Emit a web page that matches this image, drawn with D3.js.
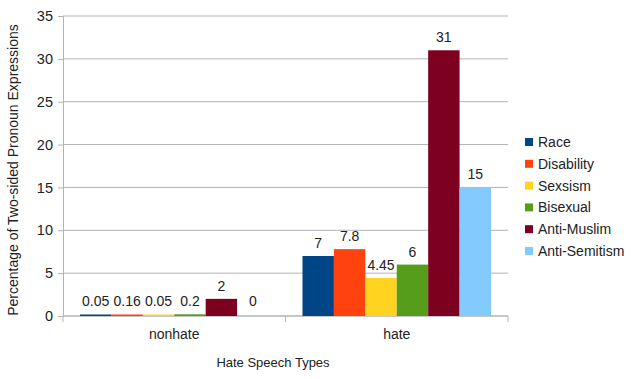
<!DOCTYPE html>
<html>
<head>
<meta charset="utf-8">
<script src="https://cdn.jsdelivr.net/npm/d3@7"></script>
<style>
  body { margin: 0; background: #fff; }
  text { font-family: "Liberation Sans", Arial, sans-serif; fill: #222; }
</style>
</head>
<body>
<script>
// data
var categories = ["nonhate", "hate"];
var series = ["Race", "Disability", "Sexsism", "Bisexual", "Anti-Muslim", "Anti-Semitism"];
var nonhateValues = [0.05, 0.16, 0.05, 0.2, 2, 0];
var hateValues = [7, 7.8, 4.45, 6, 31, 15];
var yTicks = [0, 5, 10, 15, 20, 25, 30, 35];
var colors = ["#004586", "#ff420e", "#ffd320", "#579d1c", "#7e0021", "#83caff"];

var margin = {top: 16, right: 132, bottom: 63, left: 63},
    width = 640 - margin.left - margin.right,
    height = 379 - margin.top - margin.bottom;

var svg = d3.select("body")
  .append("svg")
  .attr("width", 640)
  .attr("height", 379);

var chart = svg.append("g")
  .attr("transform", "translate(" + margin.left + "," + margin.top + ")");

var xscale = d3.scaleBand()
  .domain(categories)
  .range([0, width]);

var inner = d3.scaleBand()
  .domain(series)
  .range([17, xscale.bandwidth() - 17]);

var yscale = d3.scaleLinear()
  .domain([0, 35])
  .range([height, 0]);

var color_scale = d3.scaleOrdinal()
  .domain(series)
  .range(colors);

// gridlines
chart.append("g")
  .selectAll("line")
  .data(yTicks)
  .enter()
  .append("line")
  .attr("x1", 0)
  .attr("x2", width)
  .attr("y1", d => yscale(d))
  .attr("y2", d => yscale(d))
  .attr("stroke", "#b3b3b3");

// y axis
var yaxis = chart.append("g")
  .call(d3.axisLeft(yscale).tickValues(yTicks).tickSize(5).tickPadding(5));
yaxis.select(".domain").attr("stroke", "#b3b3b3");
yaxis.selectAll(".tick line").attr("stroke", "#b3b3b3");
yaxis.selectAll("text").style("font-size", "14.5px").attr("fill", "#222");

// x axis: ticks at band borders
var xaxis = chart.append("g")
  .attr("transform", "translate(0," + height + ")");
xaxis.append("line")
  .attr("x1", 0).attr("x2", width)
  .attr("stroke", "#b3b3b3");
xaxis.selectAll("line.sep")
  .data([0, 1, 2])
  .enter()
  .append("line")
  .attr("class", "sep")
  .attr("x1", d => d * xscale.bandwidth())
  .attr("x2", d => d * xscale.bandwidth())
  .attr("y1", 0).attr("y2", 6)
  .attr("stroke", "#b3b3b3");
xaxis.selectAll("text")
  .data(categories)
  .enter()
  .append("text")
  .attr("x", d => xscale(d) + xscale.bandwidth() / 2)
  .attr("y", 23)
  .style("text-anchor", "middle")
  .style("font-size", "14px")
  .text(d => d);

// bars
var rows = [];
categories.forEach(function (c, i) {
  var vals = i === 0 ? nonhateValues : hateValues;
  series.forEach(function (s, j) {
    rows.push({cat: c, s: s, v: vals[j]});
  });
});

var groups = chart.selectAll("g.bar")
  .data(rows)
  .enter()
  .append("g")
  .attr("class", "bar");

groups.append("rect")
  .attr("x", d => xscale(d.cat) + inner(d.s))
  .attr("width", inner.bandwidth())
  .attr("y", d => Math.min(yscale(d.v), height - 1.5))
  .attr("height", d => d.v > 0 ? Math.max(height - yscale(d.v), 1.5) : 0)
  .attr("fill", d => color_scale(d.s));

groups.append("text")
  .attr("x", d => xscale(d.cat) + inner(d.s) + inner.bandwidth() / 2)
  .attr("y", d => Math.min(yscale(d.v), height - 2) - 8)
  .style("text-anchor", "middle")
  .style("font-size", "14px")
  .text(d => d.v);

// axis titles
svg.append("text")
  .text("Hate Speech Types")
  .attr("x", 273)
  .attr("y", 367)
  .style("text-anchor", "middle")
  .style("font-size", "13px");

svg.append("text")
  .text("Percentage of Two-sided Pronoun Expressions")
  .attr("transform", "translate(18,170) rotate(-90)")
  .style("text-anchor", "middle")
  .style("font-size", "14px");

// legend
var legend = svg.selectAll("g.legend")
  .data(series)
  .enter()
  .append("g")
  .attr("class", "legend")
  .attr("transform", (d, i) => "translate(525," + (138 + i * 21.8) + ")");

legend.append("rect")
  .attr("width", 8)
  .attr("height", 8)
  .attr("fill", d => color_scale(d));

legend.append("text")
  .attr("x", 13)
  .attr("y", 9)
  .style("font-size", "14px")
  .text(d => d);
</script>
</body>
</html>
